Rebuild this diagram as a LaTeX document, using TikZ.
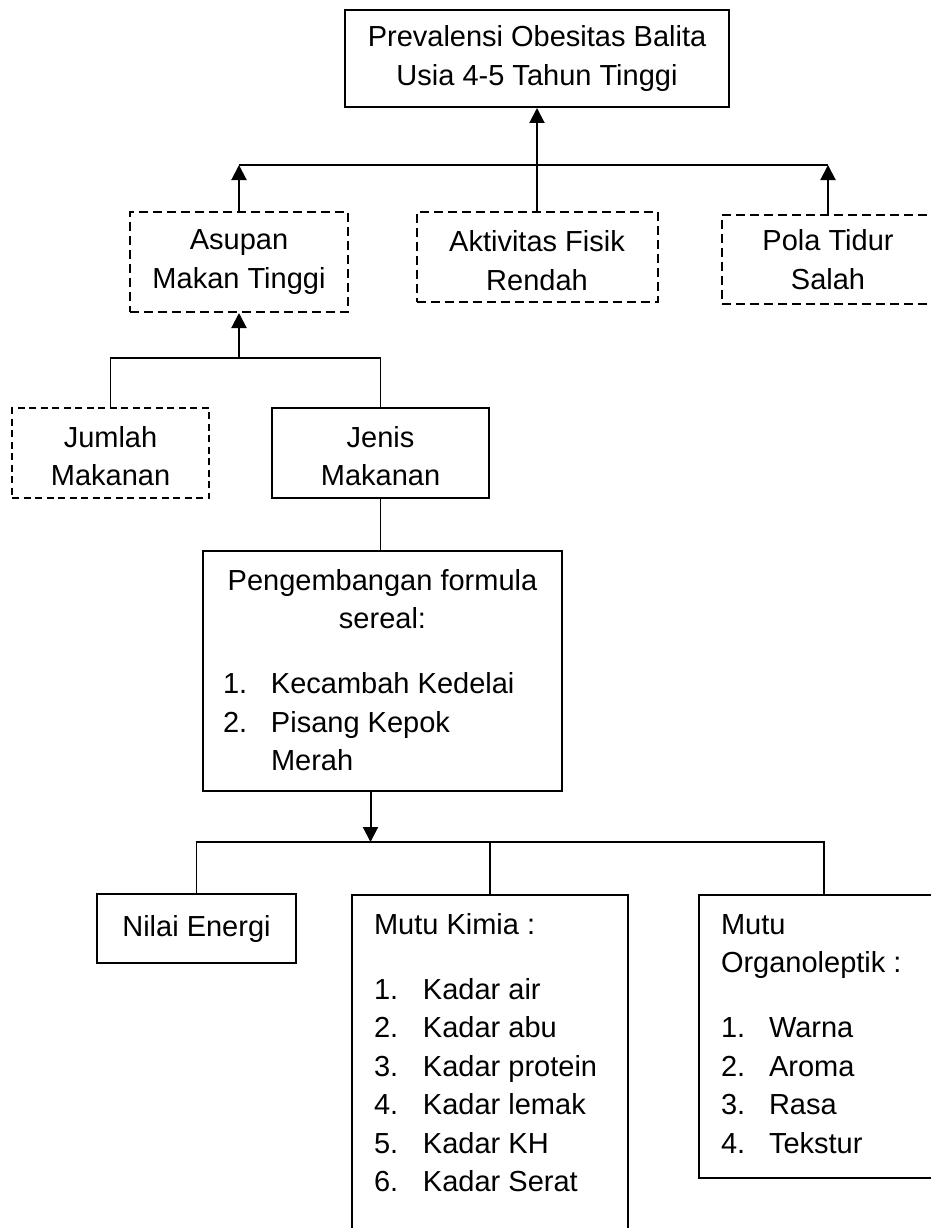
\documentclass[tikz,border=0pt]{standalone}
\usepackage{fontspec}
\setmainfont{Liberation Sans}
\usetikzlibrary{arrows.meta}

\tikzset{
  kotak/.style={draw, line width=2pt, inner sep=0pt, align=center},
  putus/.style={kotak, dash pattern=on 9pt off 5pt},
  tipis/.style={kotak, line width=1.3pt, dash pattern=on 7pt off 4.5pt},
  daftar/.style={draw, line width=2pt, anchor=north west, inner ysep=0pt},
  panah/.style={line width=2pt, -{Triangle[length=15pt,width=15pt]}},
  garis/.style={line width=1.3pt, line join=miter},
}

\begin{document}
\begin{tikzpicture}[x=1pt, y=-1pt, every node/.style={font=\fontsize{29}{38.5}\selectfont}]
        \useasboundingbox (0,0) rectangle (931,1228);
        \clip (0,0) rectangle (931,1228);

        % Masalah utama
        \node[kotak, minimum width=384pt, minimum height=97pt] (prev) at (537,58.5)
            {Prevalensi Obesitas Balita\\Usia 4-5 Tahun Tinggi};

        % Faktor penyebab
        \node[putus, minimum width=218pt, minimum height=100pt] (asupan) at (239,262) {Asupan\\Makan Tinggi};
        \node[putus, minimum width=241pt, minimum height=90pt] (aktivitas) at (537,257) {\rule{0pt}{28pt}Aktivitas Fisik\\Rendah};
        \node[putus, minimum width=212pt, minimum height=89pt] (pola) at (828,259.5) {Pola Tidur\\Salah};

        \node[tipis, minimum width=197pt, minimum height=90pt] (jumlah) at (110.5,453) {\rule{0pt}{27pt}Jumlah\\Makanan};
        \node[kotak, minimum width=217pt, minimum height=90pt] (jenis) at (380.5,453) {\rule{0pt}{27pt}Jenis\\Makanan};

        % Formula sereal
        \node[daftar, inner xsep=20pt] (kembang) at (202,550) {\parbox[t][240pt][t]{319pt}{%
            {\centering\rule{0pt}{39pt}Pengembangan formula\\sereal:\par}
            \vspace{26.5pt}\raggedright
            \makebox[48pt][l]{1.}Kecambah Kedelai\par
            \makebox[48pt][l]{2.}Pisang Kepok\\\hspace*{48pt}Merah\par}};

        % Parameter mutu
        \node[kotak, minimum width=199pt, minimum height=69pt] (energi) at (196.5,928.5) {Nilai Energi};
        \node[daftar, inner xsep=22pt] (kimia) at (351,894) {\parbox[t][366pt][t]{232pt}{\raggedright
            \rule{0pt}{39pt}Mutu Kimia :\par
            \vspace{26.5pt}
            \makebox[49pt][l]{1.}Kadar air\par
            \makebox[49pt][l]{2.}Kadar abu\par
            \makebox[49pt][l]{3.}Kadar protein\par
            \makebox[49pt][l]{4.}Kadar lemak\par
            \makebox[49pt][l]{5.}Kadar KH\par
            \makebox[49pt][l]{6.}Kadar Serat\par}};
        \node[daftar, inner xsep=22pt] (organo) at (698,894) {\parbox[t][283pt][t]{206pt}{\raggedright
            \rule{0pt}{39pt}Mutu\\Organoleptik :\par
            \vspace{26.5pt}
            \makebox[48pt][l]{1.}Warna\par
            \makebox[48pt][l]{2.}Aroma\par
            \makebox[48pt][l]{3.}Rasa\par
            \makebox[48pt][l]{4.}Tekstur\par}};

        % Penghubung atas
        \coordinate (atas) at (0,165);
        \draw[garis] (asupan.north |- atas) -- (pola.north |- atas);
        \draw[panah] (asupan.north) -- (asupan.north |- atas);
        \draw[panah] (aktivitas.north) -- (prev.south);
        \draw[panah] (pola.north) -- (pola.north |- atas);

        % Penghubung tengah
        \coordinate (tengah) at (0,358);
        \draw[garis] (jumlah.north) -- (jumlah.north |- tengah) -- (jenis.north |- tengah) -- (jenis.north);
        \draw[panah] (asupan.south |- tengah) -- (asupan.south);
        \draw[garis] (jenis.south) -- (jenis.south |- kembang.north);

        % Penghubung bawah
        \coordinate (bawah) at (0,842);
        \draw[panah] ([xshift=-12pt]kembang.south) -- ([xshift=-12pt]kembang.south |- bawah);
        \draw[garis] (energi.north) -- (energi.north |- bawah) -- (organo.north |- bawah) -- (organo.north);
        \draw[garis] (kimia.north |- bawah) -- (kimia.north);
\end{tikzpicture}
\end{document}
